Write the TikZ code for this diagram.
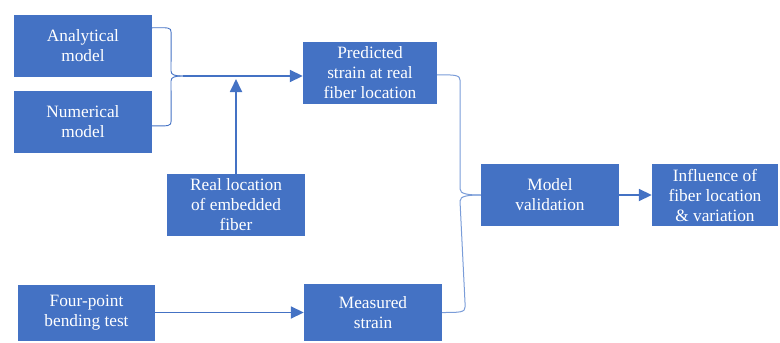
\documentclass[tikz,border=0pt]{standalone}
\usepackage{fontspec}
\setmainfont{Liberation Serif}
\usetikzlibrary{arrows.meta,calc}
\definecolor{boxblue}{HTML}{4472C4}
\definecolor{bracelight}{HTML}{7A9CD8}
\tikzset{
  box/.style={draw=none,fill=boxblue,text=white,align=center,inner sep=0pt,
    font=\fontsize{17.3}{20}\selectfont},
  arr/.style={draw=boxblue,line width=1.8pt,-{Triangle[length=13pt,width=12pt]}},
  brace/.style={draw=boxblue,line width=0.9pt},
  brace2/.style={draw=bracelight,line width=1pt}
}
\begin{document}
\begin{tikzpicture}[x=1pt,y=-1pt]
\useasboundingbox (0,0) rectangle (780,343);
\node[box,minimum width=138pt,minimum height=62pt] (ana) at (83,45.5) {Analytical\\model};
\node[box,minimum width=138pt,minimum height=62pt] (num) at (83,121.5) {Numerical\\model};
\node[box,minimum width=134pt,minimum height=62pt] (pred) at (370,73) {Predicted\\strain at real\\fiber location};
\node[box,minimum width=138pt,minimum height=62pt] (real) at (236,205) {Real location\\of embedded\\fiber};
\node[box,minimum width=137pt,minimum height=56pt] (four) at (86.5,312.5) {Four-point\\bending test};
\node[box,minimum width=138pt,minimum height=57pt] (meas) at (373,312.5) {Measured\\strain};
\node[box,minimum width=138pt,minimum height=62pt] (mval) at (550,195) {Model\\validation};
\node[box,minimum width=126pt,minimum height=62pt] (infl) at (715,195) {Influence of\\fiber location\\\& variation};
% brace 1
\coordinate (b1a) at ($(ana.north east)+(0,13.5)$);
\coordinate (b1b) at ($(num.north east)+(0,35.5)$);
\coordinate (b1tip) at (183,76);
\draw[brace] (b1a) .. controls ++(16,0) and ++(0,-6) .. ++(19,5) -- (171,71)
  .. controls (171,75) and (175,76) .. (b1tip);
\draw[brace] (b1b) .. controls ++(16,0) and ++(0,6) .. ++(19,-5) -- (171,81)
  .. controls (171,77) and (175,76) .. (b1tip);
\draw[arr] (b1tip) -- (pred.west |- b1tip);
\draw[arr] (real.north) -- (real.north |- 0,79);
% brace 2
\coordinate (b2a) at ($(pred.north east)+(0,33)$);
\coordinate (b2b) at (meas.east);
\coordinate (b2tip) at (mval.west);
\draw[brace2] (b2a) .. controls ++(18,0) and ++(0,-6) .. ++(23,6) -- (460,189)
  .. controls (460,194) and (468,195) .. (b2tip);
\draw[brace2] (b2b) .. controls ++(18,0) and ++(0,6) .. ++(23,-6) -- (460,201)
  .. controls (460,196) and (468,195) .. (b2tip);
\draw[arr] (four.east) -- (meas.west);
\draw[arr] (mval.east) -- (infl.west);
\end{tikzpicture}
\end{document}
